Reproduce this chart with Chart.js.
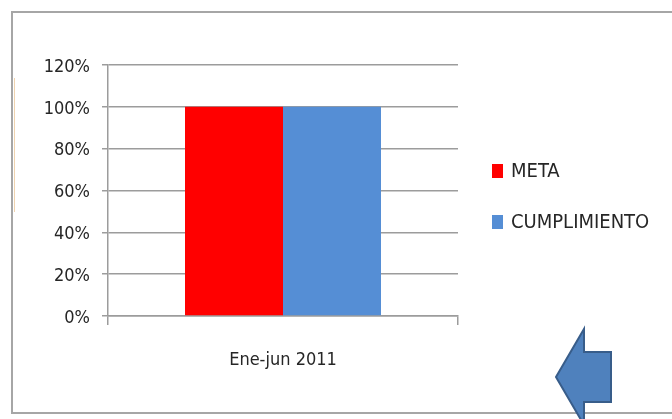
<!DOCTYPE html>
<html>
<head>
<meta charset="utf-8">
<script src="https://cdn.jsdelivr.net/npm/chart.js@4/dist/chart.umd.min.js"></script>
<style>
html,body{margin:0;padding:0;background:#fff;}
#wrap{width:672px;height:419px;position:relative;}
</style>
</head>
<body>
<div id="wrap"><canvas id="c" width="672" height="419"></canvas></div>
<script>
const categories = ['Ene-jun 2011'];
const metaValues = [100];
const cumplimientoValues = [100];
const yTicks = [0, 20, 40, 60, 80, 100, 120];
const seriesNames = ['META', 'CUMPLIMIENTO'];
const seriesColors = ['#ff0000', '#558ed5'];

const FONT = '"DejaVu Sans Condensed", "DejaVu Sans", sans-serif';

const frame = {
  id: 'frame',
  beforeDraw(chart) {
    const ctx = chart.ctx;
    ctx.save();
    ctx.fillStyle = '#fff';
    ctx.fillRect(0, 0, chart.width, chart.height);
    ctx.strokeStyle = '#a6a6a6';
    ctx.lineWidth = 2;
    ctx.strokeRect(12, 12, 700, 401);
    ctx.strokeStyle = 'rgba(225,175,110,0.55)';
    ctx.lineWidth = 1;
    ctx.beginPath(); ctx.moveTo(14.5, 78); ctx.lineTo(14.5, 212); ctx.stroke();
    ctx.restore();
  },
  afterDraw(chart) {
    const ctx = chart.ctx;
    ctx.save();
    ctx.font = '20px ' + FONT;
    ctx.textBaseline = 'middle';
    ctx.textAlign = 'left';
    chart.data.datasets.forEach((ds, i) => {
      const cy = 171 + i * 51;
      ctx.fillStyle = ds.backgroundColor;
      ctx.fillRect(492, cy - 7, 11, 14);
      ctx.fillStyle = '#262626';
      ctx.fillText(ds.label, 511, cy + 1);
    });
    ctx.beginPath();
    ctx.moveTo(556, 377);
    ctx.lineTo(584, 329);
    ctx.lineTo(584, 352);
    ctx.lineTo(611, 352);
    ctx.lineTo(611, 402);
    ctx.lineTo(584, 402);
    ctx.lineTo(584, 425);
    ctx.closePath();
    ctx.fillStyle = '#4f81bd';
    ctx.fill();
    ctx.strokeStyle = '#385d8a';
    ctx.lineWidth = 2;
    ctx.stroke();
    ctx.restore();
  }
};

new Chart(document.getElementById('c'), {
  type: 'bar',
  data: {
    labels: categories,
    datasets: [
      { label: seriesNames[0], data: metaValues, backgroundColor: seriesColors[0] },
      { label: seriesNames[1], data: cumplimientoValues, backgroundColor: seriesColors[1] }
    ]
  },
  options: {
    responsive: false,
    animation: false,
    devicePixelRatio: 1,
    layout: { padding: { left: 0, right: 214, top: 65, bottom: 0 } },
    plugins: { legend: { display: false }, tooltip: { enabled: false } },
    datasets: { bar: { categoryPercentage: 0.56, barPercentage: 1.0 } },
    scales: {
      x: {
        offset: true,
        grid: { offset: true, drawOnChartArea: false, drawTicks: true, tickLength: 9, color: '#9c9c9c', lineWidth: 1.5 },
        border: { display: true, color: '#9c9c9c', width: 1.5 },
        ticks: { color: '#262626', font: { family: FONT, size: 18 }, padding: 25 },
        afterFit(s) { s.height = 103; }
      },
      y: {
        min: 0, max: 120,
        afterBuildTicks(s) { s.ticks = yTicks.map(v => ({ value: v })); },
        grid: { drawTicks: true, tickLength: 6, color: '#9c9c9c', lineWidth: 1.5 },
        border: { display: true, color: '#9c9c9c', width: 1.5 },
        ticks: { color: '#262626', font: { family: FONT, size: 18 }, padding: 12, labelOffset: 2, callback: v => v + '%' },
        afterFit(s) { s.width = 108; }
      }
    }
  },
  plugins: [frame]
});
</script>
</body>
</html>
